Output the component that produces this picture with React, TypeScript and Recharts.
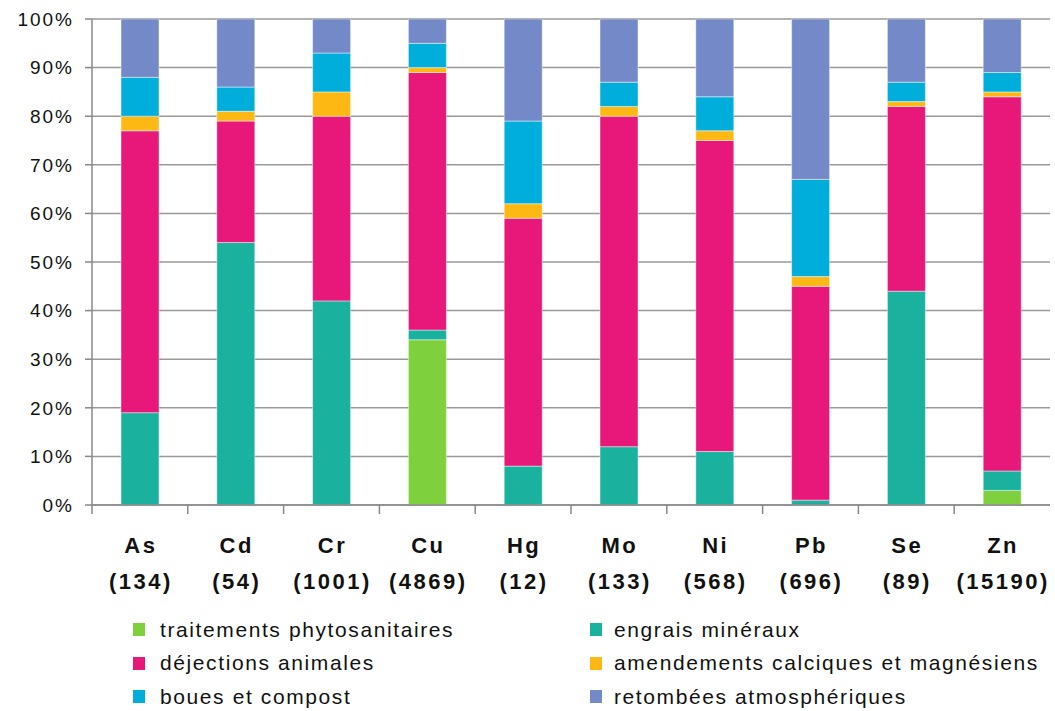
import { BarChart, Bar, XAxis, YAxis, CartesianGrid } from 'recharts'

const elements = ['As', 'Cd', 'Cr', 'Cu', 'Hg', 'Mo', 'Ni', 'Pb', 'Se', 'Zn']
const totals = ['(134)', '(54)', '(1001)', '(4869)', '(12)', '(133)', '(568)', '(696)', '(89)', '(15190)']

// parts in % of each element's total input
const phyto = [0, 0, 0, 34, 0, 0, 0, 0, 0, 3]
const engrais = [19, 54, 42, 2, 8, 12, 11, 1, 44, 4]
const dejections = [58, 25, 38, 53, 51, 68, 64, 44, 38, 77]
const amendements = [3, 2, 5, 1, 3, 2, 2, 2, 1, 1]
const boues = [8, 5, 8, 5, 17, 5, 7, 20, 4, 4]
const retombees = [12, 14, 7, 5, 21, 13, 16, 33, 13, 11]

const yTicks = [0, 10, 20, 30, 40, 50, 60, 70, 80, 90, 100]

const series = [
  { key: 'phyto', name: 'traitements phytosanitaires', color: '#7ed03c' },
  { key: 'engrais', name: 'engrais minéraux', color: '#1ab29e' },
  { key: 'dejections', name: 'déjections animales', color: '#e8177a' },
  { key: 'amendements', name: 'amendements calciques et magnésiens', color: '#fdb813' },
  { key: 'boues', name: 'boues et compost', color: '#00aedc' },
  { key: 'retombees', name: 'retombées atmosphériques', color: '#7389c8' },
]

const data = elements.map((el, i) => ({
  el,
  phyto: phyto[i],
  engrais: engrais[i],
  dejections: dejections[i],
  amendements: amendements[i],
  boues: boues[i],
  retombees: retombees[i],
}))

const FONT = "'Liberation Sans', Arial, sans-serif"

const CatTick = ({ x, y, payload }: any) => {
  const i = payload.index
  const off = payload.offset ?? 0
  return (
    <g>
      <line x1={x - off} x2={x - off} y1={y} y2={y + 9} stroke="#888" strokeWidth={1.5} />
      <text x={x + 1} y={y + 48} textAnchor="middle" fontWeight="bold" fontSize={22}
        letterSpacing={2.5} fill="#111" fontFamily={FONT}>{elements[i]}</text>
      <text x={x + 1} y={y + 84} textAnchor="middle" fontWeight="bold" fontSize={22}
        letterSpacing={2.5} fill="#111" fontFamily={FONT}>{totals[i]}</text>
    </g>
  )
}

// legend in two columns, same order as Excel
const legendRows = [
  [series[0], series[1]],
  [series[2], series[3]],
  [series[4], series[5]],
]

export default function App() {
  return (
    <div style={{ position: 'relative', width: 1055, height: 711, background: '#fff', fontFamily: FONT }}>
      <style>{'body{margin:0}'}</style>
      <BarChart width={1055} height={600} data={data}
        margin={{ top: 19, right: 5, left: 0, bottom: 0 }} barCategoryGap={0}>
        <CartesianGrid vertical={false} stroke="#999" strokeWidth={1.5} />
        <YAxis width={92} domain={[0, 100]} ticks={yTicks} allowDataOverflow
          tickFormatter={(v: number) => v + '%'} tickSize={7} tickMargin={11}
          axisLine={{ stroke: '#888', strokeWidth: 1.5 }} tickLine={{ stroke: '#888', strokeWidth: 1.5 }}
          tick={{ fontSize: 19, fill: '#111', letterSpacing: 2, fontFamily: FONT }} />
        <XAxis dataKey="el" height={95} interval={0} tickSize={0} tickMargin={0} tickLine={false}
          axisLine={{ stroke: '#888', strokeWidth: 1.5 }} tick={<CatTick />} />
        {series.map((s) => (
          <Bar key={s.key} dataKey={s.key} name={s.name} stackId="a" fill={s.color}
            barSize={38} stroke="#ffffff" strokeOpacity={0.45} strokeWidth={1}
            isAnimationActive={false} />
        ))}
      </BarChart>
      <div style={{ position: 'absolute', top: 613, left: 133, width: 920 }}>
        {legendRows.map((row, r) => (
          <div key={r} style={{ display: 'flex', height: 33.5, alignItems: 'center' }}>
            {row.map((s, c) => (
              <div key={s.key} style={{ display: 'flex', alignItems: 'center', width: c === 0 ? 457 : 460 }}>
                <span style={{ width: 12, height: 13, background: s.color, display: 'inline-block', marginRight: c === 0 ? 15 : 12 }} />
                <span style={{ fontSize: 21, letterSpacing: 1.6, color: '#111', whiteSpace: 'nowrap' }}>{s.name}</span>
              </div>
            ))}
          </div>
        ))}
      </div>
    </div>
  )
}
